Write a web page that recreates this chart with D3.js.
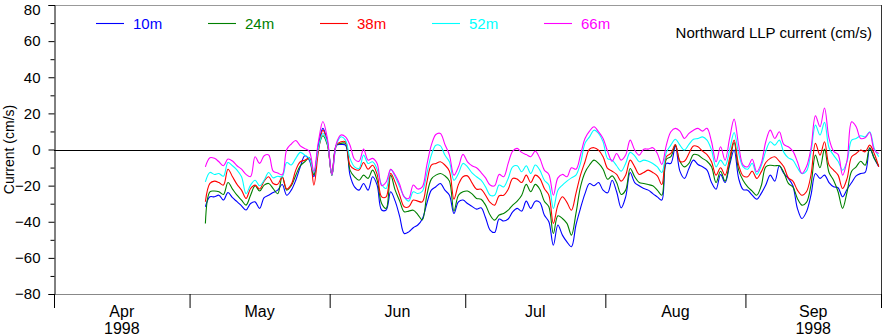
<!DOCTYPE html>
<html>
<head>
<meta charset="utf-8">
<script src="https://cdn.jsdelivr.net/npm/d3@7"></script>
<style>
  html, body { margin: 0; padding: 0; background: #fff; }
  svg { display: block; font-family: "Liberation Sans", Arial, Helvetica, sans-serif; }
</style>
</head>
<body>
<svg id="chart" width="882" height="336"></svg>
<script>
// Daily samples (noon), 4 May – 30 Sep 1998, northward current in cm/s
const firstSample = new Date(1998, 4, 4, 12);

const depths = ["10m", "24m", "38m", "52m", "66m"];
const colors = ["#0000ff", "#008000", "#ff0000", "#00ffff", "#ff00ff"];

const depth10 = [
  -31.7, -26.2, -26.2, -25.3, -28.0, -23.8, -26.7, -28.9, -31.2, -33.5, -29.9, -29.0, -32.6, -26.7, -25.3,
  -23.8, -22.5, -19.4, -25.3, -22.5, -17.0, -9.6, -3.5, -5.9, -15.0, 2.4, 11.7, 4.3, -14.2, 2.4,
  2.8, 2.4, -14.2, -20.7, -22.5, -18.8, -22.5, -15.1, -19.7, -33.5, -33.5, -23.4, -28.6, -37.2, -46.5,
  -45.6, -43.3, -41.8, -38.5, -29.9, -22.5, -20.6, -18.8, -22.5, -25.3, -35.4, -29.0, -28.0, -29.9, -31.5,
  -33.0, -32.3, -37.8, -44.6, -45.9, -38.5, -39.6, -38.5, -34.5, -32.6, -34.1, -28.6, -32.6, -28.6, -29.3,
  -36.3, -40.0, -53.0, -41.8, -47.4, -51.1, -53.8, -41.8, -32.6, -24.4, -18.8, -20.1, -18.3, -22.5, -24.0,
  -17.0, -23.4, -32.3, -26.2, -12.7, -18.3, -20.1, -21.6, -22.5, -24.4, -26.2, -28.0, -7.7, -7.7, 2.0,
  -12.0, -16.0, -10.5, -5.9, -8.3, -9.6, -11.4, -18.3, -22.0, -13.8, -18.3, -8.6, -0.3, -16.0, -22.2,
  -22.5, -25.3, -27.5, -24.3, -19.7, -14.2, -17.5, -9.0, -13.3, -16.0, -20.1, -32.6, -38.2, -34.5, -25.3,
  -13.3, -16.0, -14.2, -18.3, -20.6, -21.2, -26.2, -22.0, -18.3, -14.6, -13.3, -12.7, 0.6, -4.9, -9.6
];
const depth24 = [
  -41.0, -23.4, -23.0, -23.4, -24.9, -18.3, -21.9, -25.3, -28.0, -30.8, -25.3, -20.1, -23.0, -19.7, -18.8,
  -21.6, -24.5, -15.1, -22.5, -20.1, -14.2, -9.0, -6.8, -4.6, -14.0, 0.6, 7.6, 2.4, -14.2, 2.4,
  3.4, 3.4, -11.4, -15.1, -17.0, -14.2, -16.0, -11.4, -17.0, -29.9, -32.6, -14.2, -22.5, -28.6, -34.5,
  -34.1, -33.6, -36.0, -39.0, -25.3, -16.4, -14.2, -13.3, -14.6, -17.5, -34.1, -25.3, -23.4, -23.0, -24.6,
  -27.1, -27.5, -30.8, -36.3, -39.1, -36.3, -35.4, -33.6, -30.8, -28.6, -25.3, -19.3, -23.4, -19.3, -22.0,
  -28.6, -31.7, -46.5, -36.7, -38.2, -40.9, -47.4, -35.4, -20.7, -12.7, -8.6, -5.9, -7.7, -10.9, -16.5,
  -14.6, -18.3, -24.9, -22.5, -10.5, -15.1, -18.3, -18.8, -19.4, -20.1, -22.5, -25.3, -5.4, -4.0, 2.4,
  -6.5, -9.6, -7.7, -2.8, -3.1, -4.9, -6.5, -9.6, -18.3, -12.0, -17.5, -7.2, 3.9, -11.4, -17.2,
  -20.7, -23.0, -25.3, -20.1, -9.6, -8.7, -9.0, -9.0, -12.7, -18.8, -20.7, -27.1, -30.8, -29.3, -19.7,
  -3.1, -10.1, 0.2, -12.7, -17.0, -23.4, -32.6, -23.4, -12.0, -9.6, -6.5, -8.7, 1.0, -4.9, -9.0
];
const depth38 = [
  -28.9, -18.8, -17.5, -18.3, -19.7, -10.9, -15.1, -19.3, -22.5, -27.1, -21.6, -19.7, -21.9, -17.5, -15.1,
  -18.8, -19.3, -15.1, -21.9, -19.3, -11.4, -6.8, -5.9, -4.9, -19.7, -1.3, 10.7, 3.4, -14.2, 2.5,
  4.3, 4.3, -8.7, -10.9, -11.4, -7.2, -10.9, -8.7, -13.8, -26.2, -26.2, -13.2, -18.2, -25.3, -31.7,
  -31.7, -28.0, -28.6, -29.0, -18.2, -8.6, -7.7, -6.8, -8.6, -12.0, -27.5, -19.4, -15.1, -14.6, -18.5,
  -22.0, -22.0, -25.3, -29.3, -30.8, -25.6, -25.3, -22.0, -16.0, -16.4, -18.3, -14.2, -18.3, -14.2, -16.0,
  -21.6, -25.3, -40.9, -30.8, -26.2, -29.3, -33.6, -24.3, -14.2, -6.8, 0.2, 1.0, -0.3, -4.0, -10.5,
  -12.0, -13.8, -17.5, -14.2, -5.9, -9.6, -13.8, -12.7, -11.4, -12.7, -14.6, -19.4, -4.0, -2.2, 2.8,
  -6.5, -6.5, -2.2, 2.0, 1.5, -0.9, -2.8, -6.8, -14.2, -10.1, -14.2, -4.9, 5.2, -8.6, -14.6,
  -15.1, -12.0, -16.0, -12.4, -7.2, -4.9, -4.0, -6.5, -9.6, -15.7, -17.5, -22.5, -25.3, -23.4, -14.2,
  3.4, -3.1, 4.3, -8.6, -11.4, -14.2, -21.6, -16.0, -4.0, -2.2, -0.3, -1.3, 2.4, -2.2, -9.6
];
const depth52 = [
  -17.9, -12.7, -13.8, -13.3, -14.8, -7.2, -9.0, -11.4, -15.1, -24.4, -19.7, -17.0, -20.1, -17.0, -12.7,
  -15.7, -14.8, -15.1, -7.2, -8.6, -4.9, -1.6, -3.1, -4.9, -12.7, 0.6, 8.9, 3.4, -14.2, 2.8,
  7.0, 5.2, -4.9, -9.6, -10.5, -3.1, -7.7, -6.8, -10.9, -19.4, -21.6, -10.9, -15.1, -20.7, -26.2,
  -28.6, -23.4, -24.4, -23.1, -13.3, -3.1, 2.4, 2.0, -3.1, -6.8, -17.0, -13.3, -7.7, -9.6, -13.0,
  -15.1, -17.0, -20.7, -25.3, -25.3, -19.7, -20.7, -16.0, -9.6, -9.0, -12.3, -9.0, -13.3, -8.6, -11.4,
  -17.0, -19.7, -32.6, -22.5, -19.7, -17.5, -15.7, -14.2, -7.7, 3.4, 7.0, 10.7, 8.9, 4.3, -5.0,
  -5.9, -9.0, -12.0, -7.7, -1.6, -3.5, -6.8, -5.9, -6.5, -7.7, -9.6, -12.7, -1.6, 2.4, 5.7,
  2.4, -0.3, 2.8, 5.7, 6.1, 7.0, 5.2, -0.3, -9.6, -5.9, -9.0, -0.3, 9.4, -2.2, -9.6,
  -10.9, -7.7, -13.8, -9.0, -0.9, 4.3, 2.4, 5.2, -1.6, -4.6, -5.9, -10.1, -13.3, -12.0, -1.6,
  13.5, 8.0, 15.0, 1.0, -3.1, -6.5, -11.4, -6.5, 5.2, 6.1, 7.6, 7.0, 9.8, 0.6, -4.0
];
const depth66 = [
  -9.6, -4.6, -4.9, -6.8, -9.0, -5.3, -6.4, -9.0, -10.9, -13.8, -15.0, -4.0, -7.7, -3.5, -3.0,
  -12.0, -13.0, -14.0, 0.0, 3.0, 5.0, 2.0, 0.5, -1.0, -12.0, 4.3, 15.5, 6.1, -13.8, 3.5,
  8.0, 7.0, 2.4, -5.4, -6.5, 0.2, -5.9, -4.9, -7.7, -20.0, -18.0, -11.0, -14.2, -19.4, -26.2,
  -27.1, -19.7, -21.9, -20.7, -8.6, 2.4, 8.3, 8.9, 2.8, -3.1, -14.2, -9.6, -2.7, -6.8, -9.0,
  -10.1, -12.7, -15.7, -19.7, -20.1, -13.8, -15.1, -7.7, -0.9, 0.6, -1.6, -2.8, -4.0, -0.9, -4.9,
  -11.4, -13.8, -25.3, -15.7, -13.8, -15.1, -10.1, -10.9, -3.1, 6.1, 10.2, 12.6, 9.8, 6.1, -1.0,
  -6.5, -2.2, -5.9, -3.1, 5.2, -0.3, -3.1, 0.2, 0.2, 1.0, -2.2, -8.3, 2.4, 9.8, 11.7,
  10.2, 6.1, 8.9, 10.7, 11.7, 10.2, 11.7, 4.3, -6.8, 1.5, -5.9, 6.1, 16.8, 2.4, -8.6,
  -9.6, -5.4, -12.3, -7.7, 4.3, 10.7, 6.1, 9.8, 2.8, 1.5, -0.9, -6.8, -13.3, -9.6, 0.6,
  18.6, 12.6, 23.0, 6.1, -0.9, -2.7, -14.2, -5.9, 15.3, 12.6, 6.1, 6.5, 9.4, -0.3, -2.2
];
const seriesValues = [depth10, depth24, depth38, depth52, depth66];

const monthLabels = ["Apr", "May", "Jun", "Jul", "Aug", "Sep"];
const yearLabel = "1998";
const yTicks = [-80, -60, -40, -20, 0, 20, 40, 60, 80];
const yMinorTicks = [-70, -50, -30, -10, 10, 30, 50, 70];
const titleText = "Northward LLP current (cm/s)";
const yTitle = "Current (cm/s)";

const svg = d3.select("#chart");
const plotLeft = 54, plotRight = 881, plotTop = 5, plotBottom = 294;

const x = d3.scaleTime()
  .domain([new Date(1998, 3, 1), new Date(1998, 9, 1)])
  .range([plotLeft, plotRight]);
const y = d3.scaleLinear().domain([-80, 80]).range([plotBottom, plotTop]);

// frame
svg.append("line").attr("x1", plotLeft).attr("x2", plotRight).attr("y1", plotTop + 0.5).attr("y2", plotTop + 0.5)
  .attr("stroke", "#999").attr("stroke-width", 1);
svg.append("line").attr("x1", plotLeft).attr("x2", plotRight).attr("y1", plotBottom + 0.5).attr("y2", plotBottom + 0.5)
  .attr("stroke", "#888").attr("stroke-width", 1);
svg.append("line").attr("x1", plotRight + 0.5).attr("x2", plotRight + 0.5).attr("y1", plotTop).attr("y2", plotBottom)
  .attr("stroke", "#333").attr("stroke-width", 1);

// y axis with major + minor ticks
const yAxis = d3.axisLeft(y).tickValues(yTicks).tickSize(6).tickPadding(8).tickFormat(d3.format("d"));
const gy = svg.append("g").attr("transform", `translate(${plotLeft + 0.5},0)`).call(yAxis);
gy.select(".domain").attr("stroke", "#000");
gy.selectAll(".tick line").attr("stroke", "#000");
gy.selectAll(".tick text").attr("font-size", 15).attr("fill", "#000")
  .attr("font-family", "Liberation Sans, Arial, sans-serif")
  .attr("dy", d => d === 80 ? "0.62em" : "0.32em");
const gyMinor = svg.append("g").attr("transform", `translate(${plotLeft + 0.5},0)`)
  .call(d3.axisLeft(y).tickValues(yMinorTicks).tickSize(4).tickFormat(""));
gyMinor.select(".domain").remove();
gyMinor.selectAll(".tick line").attr("stroke", "#000");

// x axis: ticks at month boundaries, labels mid-month
const monthStarts = d3.timeMonth.range(new Date(1998, 3, 1), new Date(1998, 9, 2));
const gx = svg.append("g").attr("transform", `translate(0,${plotBottom})`)
  .call(d3.axisBottom(x).tickValues(monthStarts).tickSize(14).tickFormat(""));
gx.select(".domain").remove();
gx.selectAll(".tick line").attr("stroke", "#000");

const monthMid = monthStarts.slice(0, 6).map(d => new Date((+d + +d3.timeMonth.offset(d, 1)) / 2));
svg.append("g").selectAll("text").data(monthLabels).join("text")
  .attr("x", (d, i) => x(monthMid[i]))
  .attr("y", 317)
  .attr("text-anchor", "middle")
  .attr("font-size", 16)
  .attr("fill", "#000")
  .text(d => d);
svg.append("g").selectAll("text").data([0, 5]).join("text")
  .attr("x", i => x(monthMid[i]))
  .attr("y", 334)
  .attr("text-anchor", "middle")
  .attr("font-size", 16)
  .attr("fill", "#000")
  .text(yearLabel);

// y title
svg.append("text")
  .attr("transform", `translate(14,${y(0)}) rotate(-90)`)
  .attr("text-anchor", "middle")
  .attr("font-size", 14)
  .attr("fill", "#000")
  .text(yTitle);

// zero reference line
svg.append("line")
  .attr("x1", plotLeft).attr("x2", plotRight)
  .attr("y1", Math.round(y(0)) + 0.5).attr("y2", Math.round(y(0)) + 0.5)
  .attr("stroke", "#000").attr("stroke-width", 1);

// series
const sampleDates = depth10.map((_, i) => d3.timeDay.offset(firstSample, i));
const line = d3.line()
  .x((d, i) => x(sampleDates[i]))
  .y(d => y(d))
  .curve(d3.curveCatmullRom.alpha(0.5));

svg.append("g").selectAll("path").data(seriesValues).join("path")
  .attr("d", d => line(d))
  .attr("fill", "none")
  .attr("stroke", (d, i) => colors[i])
  .attr("stroke-width", 1.1);

// legend
const legend = svg.append("g").selectAll("g").data(depths).join("g")
  .attr("transform", (d, i) => `translate(${96 + i * 112},23)`);
legend.append("line").attr("x1", 0).attr("x2", 28).attr("y1", 0.5).attr("y2", 0.5)
  .attr("stroke", (d, i) => colors[i]).attr("stroke-width", 1.1);
legend.append("text").attr("x", 37).attr("y", 5.5)
  .attr("font-size", 15)
  .attr("fill", (d, i) => colors[i])
  .text(d => d);

// title
svg.append("text")
  .attr("x", 872).attr("y", 38)
  .attr("text-anchor", "end")
  .attr("font-size", 15)
  .attr("fill", "#000")
  .text(titleText);
</script>
</body>
</html>
